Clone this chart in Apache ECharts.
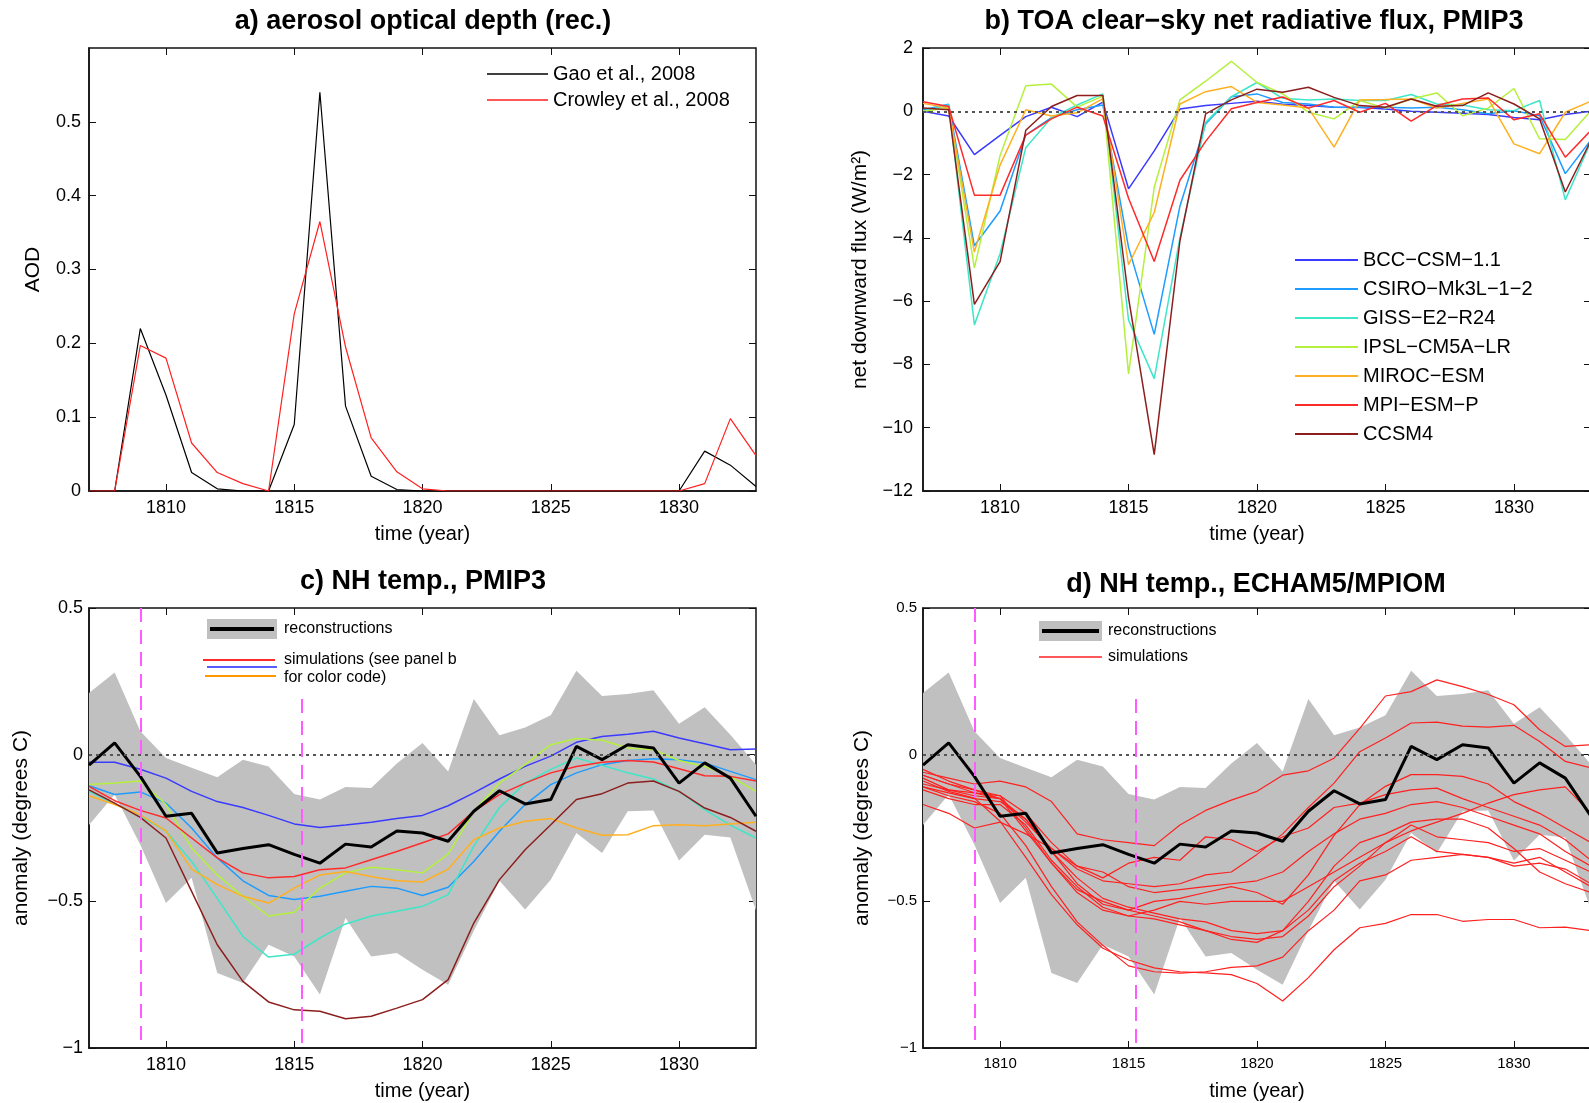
<!DOCTYPE html>
<html>
<head>
<meta charset="utf-8">
<title>Volcanic forcing and NH temperature, 1807-1833</title>
<script src="https://cdn.jsdelivr.net/npm/echarts@6/dist/echarts.min.js"></script>
<style>
  html, body { margin: 0; padding: 0; background: #fff; }
  #chart { width: 1589px; height: 1103px; }
</style>
</head>
<body>
<div id="chart"></div>
<script>
const FONT = '"Liberation Sans", Arial, sans-serif';
const MINUS = '\u2212';

// time axis shared by all four panels
const years = [1807, 1808, 1809, 1810, 1811, 1812, 1813, 1814, 1815, 1816, 1817, 1818, 1819, 1820,
  1821, 1822, 1823, 1824, 1825, 1826, 1827, 1828, 1829, 1830, 1831, 1832, 1833];
const yearTicks = [1810, 1815, 1820, 1825, 1830];

// a) aerosol optical depth reconstructions
const aodGao = [0, 0, 0.22, 0.13, 0.025, 0.003, 0, 0, 0.09, 0.54, 0.115, 0.02, 0.002, 0,
  0, 0, 0, 0, 0, 0, 0, 0, 0, 0, 0.054, 0.035, 0.006];
const aodCrowley = [0, 0, 0.197, 0.18, 0.065, 0.025, 0.01, 0, 0.24, 0.365, 0.195, 0.072, 0.026, 0.003,
  0, 0, 0, 0, 0, 0, 0, 0, 0, 0, 0.01, 0.098, 0.048];
const aodTicks = [0, 0.1, 0.2, 0.3, 0.4, 0.5];

// b) TOA clear-sky net flux, PMIP3 models
const modelNames = ['BCC' + MINUS + 'CSM' + MINUS + '1.1', 'CSIRO' + MINUS + 'Mk3L' + MINUS + '1' + MINUS + '2',
  'GISS' + MINUS + 'E2' + MINUS + 'R24', 'IPSL' + MINUS + 'CM5A' + MINUS + 'LR', 'MIROC' + MINUS + 'ESM',
  'MPI' + MINUS + 'ESM' + MINUS + 'P', 'CCSM4'];
const modelColors = ['#3a3aff', '#1e9cff', '#3ee6c8', '#b4f03c', '#ffb020', '#ff2a2a', '#8c1e1e'];

const fluxBCC = [0, -0.15, -1.37, -0.76, -0.17, 0.13, -0.17, 0.29, -2.45, -1.25, 0.07, 0.18, 0.25, 0.32,
  0.22, 0.18, 0.13, 0.12, 0.07, 0, -0.03, -0.06, -0.1, -0.2, -0.27, -0.1, 0];
const fluxCSIRO = [0.05, 0.22, -4.25, -3.15, -0.75, -0.2, 0.05, 0.2, -4.3, -7.05, -3.0, -0.4, 0.46, 0.55,
  0.28, 0.23, 0.13, 0.13, 0.13, 0.1, 0.13, 0.05, -0.08, 0.02, -0.14, -1.97, -0.9];
const fluxGISS = [0, 0.2, -6.75, -4.5, -1.15, -0.2, 0.2, 0.55, -6.6, -8.45, -4.0, -0.35, 0.46, 0.91,
  0.41, 0.36, 0.39, 0.34, 0.34, 0.53, 0.23, 0.2, 0.05, 0.02, 0.34, -2.8, -0.95];
const fluxIPSL = [0, 0.1, -4.95, -1.4, 0.81, 0.86, 0.13, 0.48, -8.3, -2.4, 0.36, 0.95, 1.58, 0.91,
  0.55, -0.03, -0.24, 0.34, 0.1, 0.39, 0.58, -0.14, 0.1, 0.72, -0.87, -0.89, 0.02];
const fluxMIROC = [0.25, 0.1, -4.45, -1.7, 0.05, -0.15, -0.05, 0.4, -4.85, -3.2, 0.23, 0.62, 0.78, 0.28,
  0.2, 0.1, -1.13, 0.36, 0.37, 0.39, 0.1, 0.25, 0.39, -1.03, -1.34, -0.03, 0.32];
const fluxMPI = [0.3, 0.15, -2.65, -2.65, -0.75, -0.24, 0.13, -0.15, -2.75, -4.75, -2.18, -0.95, 0.08, 0.28,
  0.45, 0.1, 0.34, -0.03, 0.25, -0.31, 0.18, 0.39, 0.42, -0.27, -0.08, -1.45, -0.6];
const fluxCCSM4 = [0.1, 0.05, -6.1, -4.75, -0.6, 0.15, 0.5, 0.5, -5.9, -10.85, -4.1, -0.08, 0.36, 0.7,
  0.6, 0.76, 0.44, 0.18, 0.13, 0.39, 0.16, 0.18, 0.58, 0.23, -0.24, -2.55, -0.92];

// c) + d) NH temperature reconstructions (mean and range)
const recon = [-0.036, 0.04, -0.074, -0.21, -0.2, -0.335, -0.32, -0.307, -0.34, -0.37, -0.305, -0.315, -0.26, -0.267,
  -0.295, -0.193, -0.123, -0.168, -0.153, 0.028, -0.017, 0.034, 0.023, -0.097, -0.028, -0.08, -0.21];
const reconUpper = [0.21, 0.28, 0.08, -0.011, -0.045, -0.077, -0.017, -0.04, -0.134, -0.153, -0.11, -0.114, -0.03, 0.04,
  -0.057, 0.19, 0.066, 0.093, 0.134, 0.286, 0.2, 0.207, 0.22, 0.105, 0.162, 0.068, -0.034];
const reconLower = [-0.24, -0.136, -0.307, -0.506, -0.42, -0.744, -0.778, -0.648, -0.688, -0.818, -0.557, -0.688, -0.676, -0.733,
  -0.784, -0.6, -0.43, -0.528, -0.426, -0.267, -0.335, -0.193, -0.19, -0.361, -0.273, -0.282, -0.53];

// c) PMIP3 simulated NH temperature
const tempBCC = [-0.026, -0.026, -0.05, -0.08, -0.125, -0.16, -0.18, -0.207, -0.236, -0.248, -0.24, -0.23, -0.218, -0.207,
  -0.174, -0.13, -0.083, -0.04, -0.005, 0.042, 0.062, 0.07, 0.08, 0.057, 0.037, 0.017, 0.019];
const tempCSIRO = [-0.106, -0.136, -0.127, -0.165, -0.25, -0.352, -0.43, -0.48, -0.494, -0.483, -0.466, -0.449, -0.455, -0.48,
  -0.452, -0.364, -0.261, -0.17, -0.102, -0.062, -0.034, -0.02, -0.014, -0.017, -0.028, -0.057, -0.085];
const tempGISS = [-0.125, -0.168, -0.21, -0.26, -0.364, -0.49, -0.62, -0.69, -0.68, -0.625, -0.577, -0.55, -0.534, -0.517,
  -0.477, -0.312, -0.18, -0.097, -0.05, -0.011, -0.036, -0.062, -0.083, -0.125, -0.187, -0.24, -0.284];
const tempIPSL = [-0.102, -0.097, -0.09, -0.17, -0.318, -0.41, -0.483, -0.55, -0.537, -0.455, -0.403, -0.384, -0.392, -0.403,
  -0.339, -0.193, -0.097, -0.034, 0.034, 0.055, 0.049, 0.023, 0.017, -0.02, -0.04, -0.074, -0.125];
const tempMIROC = [-0.14, -0.17, -0.205, -0.26, -0.39, -0.443, -0.483, -0.506, -0.455, -0.41, -0.398, -0.415, -0.43, -0.434,
  -0.39, -0.29, -0.25, -0.227, -0.218, -0.25, -0.275, -0.273, -0.242, -0.239, -0.242, -0.236, -0.23];
const tempMPI = [-0.108, -0.157, -0.19, -0.216, -0.284, -0.352, -0.403, -0.42, -0.415, -0.392, -0.386, -0.358, -0.33, -0.3,
  -0.27, -0.193, -0.136, -0.097, -0.062, -0.04, -0.026, -0.02, -0.025, -0.048, -0.072, -0.074, -0.09];
const tempCCSM4 = [-0.12, -0.165, -0.214, -0.284, -0.466, -0.648, -0.773, -0.843, -0.87, -0.875, -0.9, -0.892, -0.864, -0.835,
  -0.767, -0.574, -0.426, -0.324, -0.239, -0.153, -0.133, -0.097, -0.09, -0.125, -0.182, -0.214, -0.261];

// d) ECHAM5/MPIOM ensemble members
const ens1 = [-0.06, -0.08, -0.1, -0.09, -0.11, -0.16, -0.27, -0.29, -0.3, -0.31, -0.24, -0.19, -0.155, -0.125,
  -0.07, -0.055, -0.012, 0.09, 0.2, 0.215, 0.255, 0.232, 0.205, 0.17, 0.085, 0.028, 0.034];
const ens2 = [-0.05, -0.09, -0.12, -0.15, -0.23, -0.32, -0.39, -0.43, -0.44, -0.45, -0.44, -0.41, -0.4, -0.34,
  -0.27, -0.18, -0.097, 0.01, 0.057, 0.108, 0.111, 0.097, 0.094, 0.1, 0.045, -0.023, -0.045];
const ens3 = [-0.08, -0.12, -0.14, -0.15, -0.26, -0.37, -0.46, -0.5, -0.53, -0.5, -0.49, -0.47, -0.45, -0.47,
  -0.51, -0.41, -0.275, -0.17, -0.108, -0.068, -0.068, -0.074, -0.1, -0.16, -0.2, -0.25, -0.3];
const ens4 = [-0.07, -0.1, -0.13, -0.14, -0.2, -0.3, -0.38, -0.42, -0.37, -0.35, -0.36, -0.28, -0.29, -0.33,
  -0.28, -0.25, -0.18, -0.165, -0.136, -0.12, -0.114, -0.15, -0.18, -0.21, -0.24, -0.29, -0.36];
const ens5 = [-0.07, -0.1, -0.12, -0.14, -0.25, -0.37, -0.47, -0.53, -0.55, -0.53, -0.5, -0.51, -0.5, -0.5,
  -0.5, -0.45, -0.4, -0.35, -0.3, -0.24, -0.28, -0.29, -0.3, -0.33, -0.32, -0.36, -0.4];
const ens6 = [-0.1, -0.12, -0.13, -0.15, -0.22, -0.33, -0.44, -0.51, -0.53, -0.55, -0.57, -0.6, -0.62, -0.63,
  -0.62, -0.55, -0.45, -0.38, -0.3, -0.26, -0.23, -0.2, -0.165, -0.136, -0.12, -0.11, -0.2];
const ens7 = [-0.11, -0.13, -0.15, -0.16, -0.22, -0.33, -0.42, -0.49, -0.52, -0.54, -0.56, -0.57, -0.6, -0.61,
  -0.6, -0.53, -0.43, -0.37, -0.33, -0.28, -0.33, -0.34, -0.35, -0.38, -0.37, -0.39, -0.44];
const ens8 = [-0.12, -0.15, -0.17, -0.17, -0.24, -0.36, -0.45, -0.52, -0.55, -0.56, -0.58, -0.6, -0.63, -0.64,
  -0.6, -0.5, -0.38, -0.3, -0.27, -0.23, -0.22, -0.22, -0.25, -0.32, -0.4, -0.44, -0.47];
const ens9 = [-0.11, -0.14, -0.16, -0.2, -0.31, -0.45, -0.57, -0.65, -0.72, -0.74, -0.745, -0.74, -0.725, -0.72,
  -0.69, -0.6, -0.53, -0.43, -0.41, -0.36, -0.35, -0.34, -0.35, -0.37, -0.35, -0.4, -0.45];
const ens10 = [-0.09, -0.125, -0.148, -0.227, -0.35, -0.477, -0.58, -0.66, -0.7, -0.727, -0.74, -0.744, -0.75, -0.78,
  -0.84, -0.76, -0.665, -0.59, -0.575, -0.545, -0.545, -0.568, -0.562, -0.562, -0.59, -0.588, -0.6];
const ens11 = [-0.17, -0.2, -0.25, -0.23, -0.27, -0.32, -0.38, -0.4, -0.45, -0.47, -0.46, -0.45, -0.44, -0.43,
  -0.4, -0.33, -0.27, -0.22, -0.2, -0.17, -0.16, -0.18, -0.21, -0.24, -0.27, -0.33, -0.38];

// eruption markers (magenta dashed lines) in c) and d)
const eruptionYears = [1809, 1815.3];
const eruptionTops = [0.5, 0.19];

const chart = echarts.init(document.getElementById('chart'));

const pts = vals => years.map((y, i) => [y, vals[i]]);
const fmtNum = v => (v === 0 ? '0' : (v < 0 ? MINUS : '') + String(Math.abs(+v.toFixed(2))));

const grids = [
  { left: 89, top: 48, width: 667, height: 443 },
  { left: 923, top: 48, width: 668, height: 443 },
  { left: 89, top: 608, width: 667, height: 440 },
  { left: 923, top: 608, width: 668, height: 440 }
].map(g => Object.assign(g, { show: true, borderColor: '#111', borderWidth: 1.5, containLabel: false, outerBoundsMode: 'none' }));

const tickStyle = { color: '#111', width: 1 };

function bottomX(grid, size, gap) {
  return {
    type: 'value', gridIndex: grid, min: 1807, max: 1833, position: 'bottom',
    axisLine: { show: true, onZero: false, lineStyle: { color: '#111', width: 1.5 } },
    axisTick: { show: true, inside: true, length: 7, customValues: yearTicks, lineStyle: tickStyle },
    axisLabel: { customValues: yearTicks, fontSize: size, color: '#000', fontFamily: FONT, margin: 8, formatter: v => String(v) },
    splitLine: { show: false },
    name: 'time (year)', nameLocation: 'middle', nameGap: gap,
    nameTextStyle: { fontSize: 20, color: '#000', fontFamily: FONT }
  };
}
function topX(grid) {
  return {
    type: 'value', gridIndex: grid, min: 1807, max: 1833, position: 'top',
    axisLine: { show: false, onZero: false },
    axisTick: { show: true, inside: true, length: 7, customValues: yearTicks, lineStyle: tickStyle },
    axisLabel: { show: false }, splitLine: { show: false }
  };
}
function leftY(grid, cfg) {
  const ticks = cfg.ticks ? { customValues: cfg.ticks } : {};
  return Object.assign({
    type: 'value', gridIndex: grid, min: cfg.min, max: cfg.max, position: 'left',
    axisLine: { show: true, onZero: false, lineStyle: { color: '#111', width: 1.5 } },
    axisTick: Object.assign({ show: true, inside: true, length: 7, lineStyle: tickStyle }, ticks),
    axisLabel: Object.assign({ fontSize: cfg.size, color: '#000', fontFamily: FONT, margin: cfg.margin, formatter: fmtNum }, ticks),
    splitLine: { show: false },
    name: cfg.name, nameLocation: 'middle', nameGap: cfg.gap, nameRotate: 90,
    nameTextStyle: { fontSize: 21, color: '#000', fontFamily: FONT }
  }, cfg.interval ? { interval: cfg.interval } : {});
}
function rightY(grid, cfg) {
  const ticks = cfg.ticks ? { customValues: cfg.ticks } : {};
  return Object.assign({
    type: 'value', gridIndex: grid, min: cfg.min, max: cfg.max, position: 'right',
    axisLine: { show: false, onZero: false },
    axisTick: Object.assign({ show: true, inside: true, length: 7, lineStyle: tickStyle }, ticks),
    axisLabel: { show: false }, splitLine: { show: false }
  }, cfg.interval ? { interval: cfg.interval } : {});
}

const yCfg = [
  { min: 0, max: 0.6, ticks: aodTicks, size: 18, margin: 8, name: 'AOD', gap: 45 },
  { min: -12, max: 2, interval: 2, size: 18, margin: 10, name: 'net downward flux (W/m\u00B2)', gap: 52 },
  { min: -1, max: 0.5, interval: 0.5, size: 18, margin: 6, name: 'anomaly (degrees C)', gap: 57 },
  { min: -1, max: 0.5, interval: 0.5, size: 15, margin: 6, name: 'anomaly (degrees C)', gap: 50 }
];

const line = (name, data, color, width, xi, z) => ({
  type: 'line', name, data: pts(data), xAxisIndex: xi, yAxisIndex: xi,
  symbol: 'none', z: z || 3, silent: true,
  lineStyle: { color, width }, itemStyle: { color }
});

const zeroLine = {
  silent: true, symbol: 'none', label: { show: false },
  lineStyle: { color: '#555', type: [3, 4], width: 2 },
  data: [{ yAxis: 0 }]
};
const eruptionLines = {
  silent: true, symbol: 'none', label: { show: false },
  lineStyle: { color: '#ff5cff', type: [14, 8], width: 2 },
  data: eruptionYears.map((y, i) => [{ coord: [y, eruptionTops[i]] }, { coord: [y, -1] }])
};

// grey range of the reconstructions, drawn as one polygon through the axis scales
function band(xi) {
  return {
    type: 'custom', xAxisIndex: xi, yAxisIndex: xi, silent: true, z: 1, clip: true,
    data: years.map((y, i) => [y, reconLower[i], reconUpper[i]]),
    encode: { x: 0, y: [1, 2] },
    renderItem: (params, api) => {
      if (params.dataIndex !== 0) return;
      const top = years.map((y, i) => api.coord([y, reconUpper[i]]));
      const bottom = years.map((y, i) => api.coord([y, reconLower[i]])).reverse();
      return { type: 'polygon', shape: { points: top.concat(bottom) }, style: { fill: '#c0c0c0' } };
    }
  };
}

const fluxSets = [fluxBCC, fluxCSIRO, fluxGISS, fluxIPSL, fluxMIROC, fluxMPI, fluxCCSM4];
const tempSets = [tempBCC, tempCSIRO, tempGISS, tempIPSL, tempMIROC, tempMPI, tempCCSM4];
const ensemble = [ens1, ens2, ens3, ens4, ens5, ens6, ens7, ens8, ens9, ens10, ens11];

const series = [];
// a
series.push(line('Gao et al., 2008', aodGao, '#000', 1.2, 0));
series.push(line('Crowley et al., 2008', aodCrowley, '#ff2020', 1.2, 0));
// b
fluxSets.forEach((f, i) => {
  const s = line(modelNames[i], f, modelColors[i], 1.5, 1);
  if (i === 0) s.markLine = zeroLine;
  series.push(s);
});
// c
series.push(band(2));
tempSets.forEach((t, i) => series.push(line(modelNames[i] + ' (c)', t, modelColors[i], 1.5, 2, 2)));
series.push(Object.assign(line('reconstructions c', recon, '#000', 3, 2, 4), {
  markLine: { ...zeroLine, data: [{ yAxis: 0 }] }
}));
series.push({ type: 'line', data: [], xAxisIndex: 2, yAxisIndex: 2, z: 5, silent: true, markLine: eruptionLines });
// d
series.push(band(3));
ensemble.forEach((e, i) => series.push(line('member ' + (i + 1), e, '#ff2020', 1.2, 3, 2)));
series.push(Object.assign(line('reconstructions d', recon, '#000', 3, 3, 4), {
  markLine: { ...zeroLine, data: [{ yAxis: 0 }] }
}));
series.push({ type: 'line', data: [], xAxisIndex: 3, yAxisIndex: 3, z: 5, silent: true, markLine: eruptionLines });

const titleStyle = { fontSize: 27, fontWeight: 'bold', color: '#000', fontFamily: FONT };
const legendText = { fontSize: 20, lineHeight: 20, color: '#000', fontFamily: FONT };
const smallText = { fontSize: 16, fill: '#000', fontFamily: FONT, verticalAlign: 'middle' };

chart.setOption({
  animation: false,
  backgroundColor: '#fff',
  title: [
    { text: 'a) aerosol optical depth (rec.)', left: 423, top: 8, textAlign: 'center', padding: 0, textStyle: titleStyle },
    { text: 'b) TOA clear' + MINUS + 'sky net radiative flux, PMIP3', left: 1254, top: 8, textAlign: 'center', padding: 0, textStyle: titleStyle },
    { text: 'c) NH temp., PMIP3', left: 423, top: 568, textAlign: 'center', padding: 0, textStyle: titleStyle },
    { text: 'd) NH temp., ECHAM5/MPIOM', left: 1256, top: 571, textAlign: 'center', padding: 0, textStyle: titleStyle }
  ],
  legend: [
    { data: ['Gao et al., 2008', 'Crowley et al., 2008'], orient: 'vertical', left: 487, top: 64, icon: 'rect',
      itemWidth: 61, itemHeight: 1.5, itemGap: 6, padding: 0, selectedMode: false, textStyle: legendText },
    { data: modelNames, orient: 'vertical', left: 1295, top: 250, icon: 'rect',
      itemWidth: 63, itemHeight: 2, itemGap: 9, padding: 0, selectedMode: false, textStyle: legendText }
  ],
  grid: grids,
  xAxis: [bottomX(0, 18, 33), bottomX(1, 18, 33), bottomX(2, 18, 33), bottomX(3, 15, 33), topX(0), topX(1), topX(2), topX(3)],
  yAxis: yCfg.map((c, i) => leftY(i, c)).concat(yCfg.map((c, i) => rightY(i, c))),
  series,
  graphic: [
    // c) legend
    { type: 'rect', shape: { x: 207, y: 619, width: 70, height: 20 }, style: { fill: '#c0c0c0' } },
    { type: 'line', shape: { x1: 210, y1: 629, x2: 274, y2: 629 }, style: { stroke: '#000', lineWidth: 4 } },
    { type: 'text', x: 284, y: 629, style: Object.assign({ text: 'reconstructions' }, smallText) },
    { type: 'line', shape: { x1: 203, y1: 660, x2: 275, y2: 660 }, style: { stroke: '#ff2a2a', lineWidth: 2 } },
    { type: 'line', shape: { x1: 207, y1: 667, x2: 277, y2: 667 }, style: { stroke: '#5a5aff', lineWidth: 2 } },
    { type: 'line', shape: { x1: 205, y1: 676, x2: 276, y2: 676 }, style: { stroke: '#ff9900', lineWidth: 2 } },
    { type: 'text', x: 284, y: 660, style: Object.assign({ text: 'simulations (see panel b' }, smallText) },
    { type: 'text', x: 284, y: 678, style: Object.assign({ text: 'for color code)' }, smallText) },
    // d) legend
    { type: 'rect', shape: { x: 1039, y: 621, width: 63, height: 20 }, style: { fill: '#c0c0c0' } },
    { type: 'line', shape: { x1: 1042, y1: 631, x2: 1099, y2: 631 }, style: { stroke: '#000', lineWidth: 4 } },
    { type: 'text', x: 1108, y: 631, style: Object.assign({ text: 'reconstructions' }, smallText) },
    { type: 'line', shape: { x1: 1039, y1: 657, x2: 1102, y2: 657 }, style: { stroke: '#ff2020', lineWidth: 1.5 } },
    { type: 'text', x: 1108, y: 657, style: Object.assign({ text: 'simulations' }, smallText) }
  ]
});
</script>
</body>
</html>
